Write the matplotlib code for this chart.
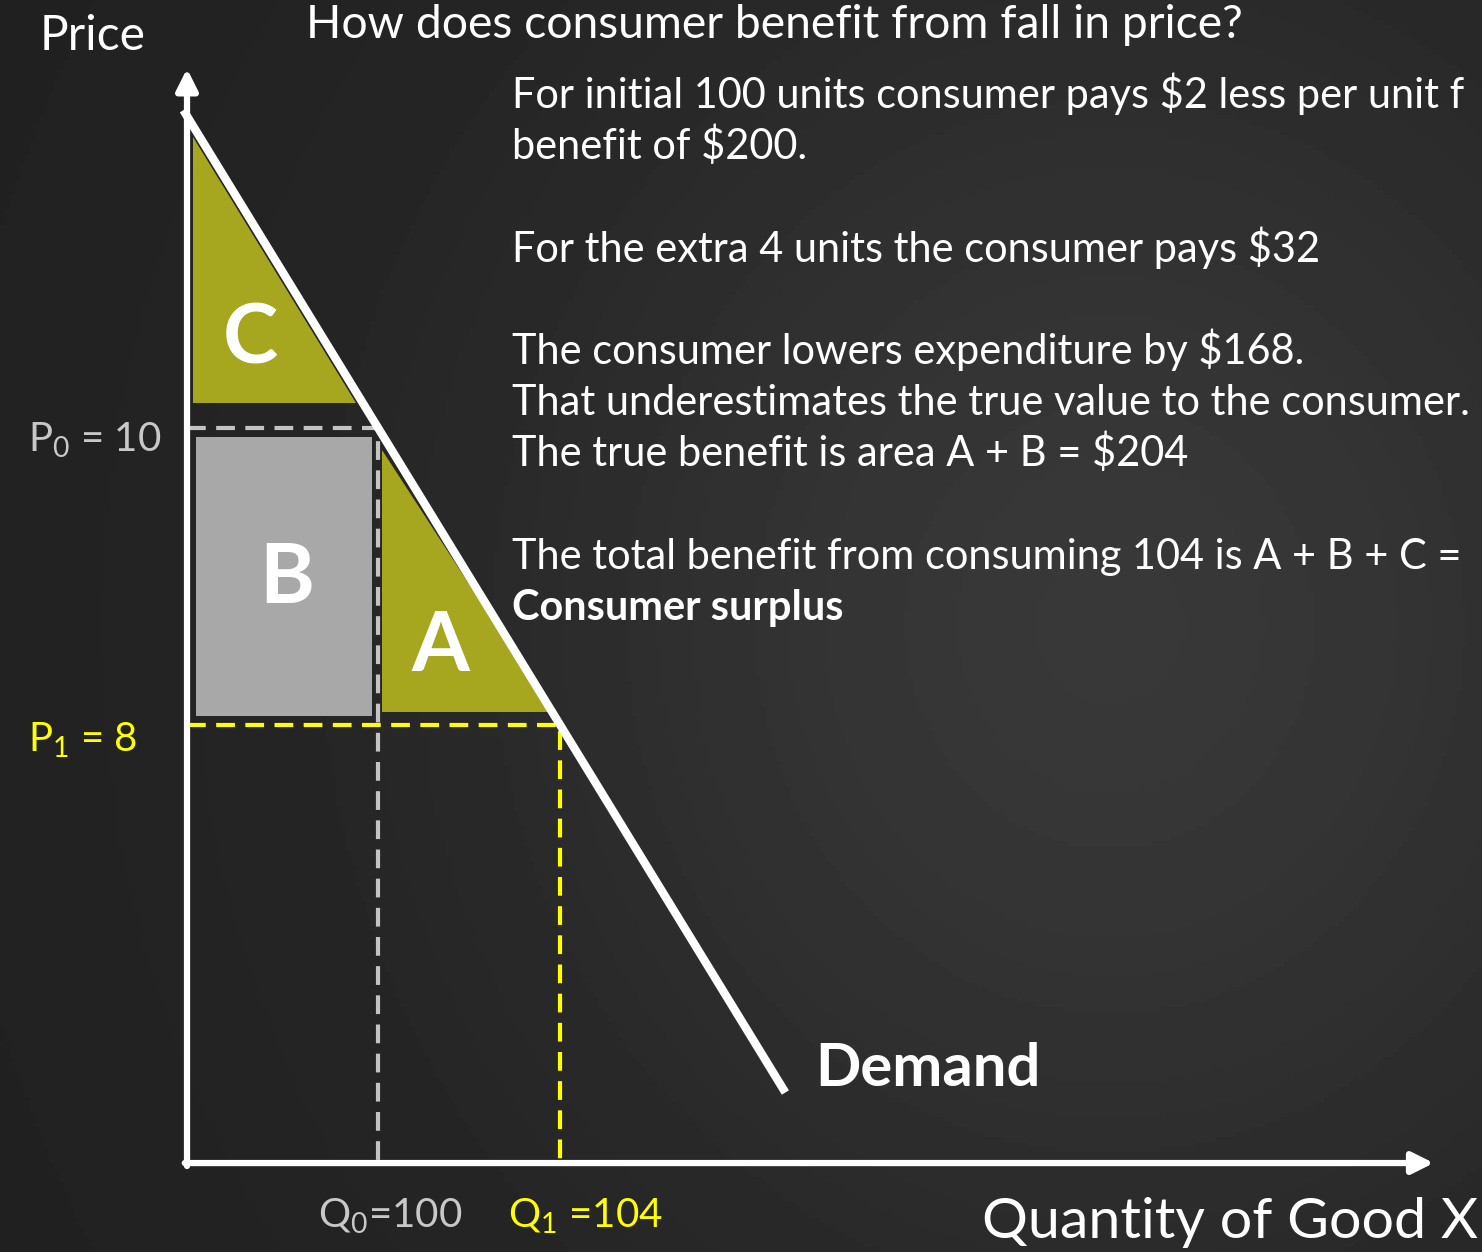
import matplotlib.pyplot as plt
import numpy as np

plt.rcParams['font.family'] = ['Lato', 'DejaVu Sans']
plt.rcParams['mathtext.fontset'] = 'custom'
plt.rcParams['mathtext.rm'] = 'Lato'

# values of the worked example
p0, p1 = 10, 8          # price before / after
q0, q1 = 100, 104       # quantity before / after
# demand through (q0, p0) and (q1, p1) on a truncated schematic
slope = (p1 - p0) / (q1 - q0)
q_axis, p_axis = 95.8, 5.05    # where the drawn axes meet
q_start, q_end = 95.72, 108.95

title = 'How does consumer benefit from fall in price?'
notes = [
    'For initial 100 units consumer pays $2 less per unit f',
    'benefit of $200.',
    '',
    'For the extra 4 units the consumer pays $32',
    '',
    'The consumer lowers expenditure by $168.',
    'That underestimates the true value to the consumer.',
    'The true benefit is area A + B = $204',
    '',
    'The total benefit from consuming 104 is A + B + C =',
    'Consumer surplus',
]

olive = '#a6a61f'
grey_fill = '#a8a8a8'
grey_line = '#c4c4c4'
yellow = '#ffff00'


def demand_p(q):
    return p0 + slope * (q - q0)


def demand_q(p):
    return q0 + (p - p0) / slope


fig = plt.figure(figsize=(14.82, 12.52), dpi=100)
ax = fig.add_axes([0, 0, 1, 1])
ax.set_xlim(91.69, 124.26)
ax.set_ylim(4.451, 12.882)
ax.axis('off')

# chalkboard-ish background: dark at the left, a little lighter to the right
gx = np.linspace(0, 1, 300)
gy = np.linspace(0, 1, 250)
GX, GY = np.meshgrid(gx, gy)
shade = 0.13 + 0.09 * np.exp(-((GX - 0.75) ** 2 / 0.18 + (GY - 0.5) ** 2 / 0.3))
ax.imshow(shade, cmap='gray', vmin=0, vmax=1, extent=(91.69, 124.26, 4.451, 12.882),
          aspect='auto', zorder=0, origin='lower')

# area C (above old price)
c_shift = 0.15
qc_left = q_axis + 0.13
pc_bot = p0 + 0.17
ax.fill([qc_left, qc_left, demand_q(pc_bot) - c_shift],
        [demand_p(qc_left + c_shift), pc_bot, pc_bot], color=olive, zorder=2, lw=0)
# area B (rectangle saved on the first 100 units)
ax.fill([q_axis + 0.19, q0 - 0.13, q0 - 0.13, q_axis + 0.19],
        [p1 + 0.06, p1 + 0.06, p0 - 0.06, p0 - 0.06], color=grey_fill, zorder=2, lw=0)
# area A (triangle for the extra units)
qa = q0 + 0.09
pa = p1 + 0.09
ax.fill([qa, qa, demand_q(pa)], [demand_p(qa) - 0.1, pa, pa], color=olive, zorder=2, lw=0)

# dashed guides
ax.plot([q_axis, q0, q0], [p0, p0, p_axis], color=grey_line, lw=3,
        dashes=(4.5, 2.5), zorder=3)
ax.plot([q_axis, q1, q1], [p1, p1, p_axis], color=yellow, lw=3,
        dashes=(4.5, 2.5), zorder=3)

# demand curve
ax.plot([q_start, q_end], [demand_p(q_start), demand_p(q_end)], color='white',
        lw=6, solid_capstyle='butt', zorder=4)

# axes with arrows
ax.annotate('', xy=(q_axis, 12.42), xytext=(q_axis, p_axis - 0.02),
            arrowprops=dict(arrowstyle='-|>', color='white', lw=4.5, mutation_scale=32,
                            shrinkA=0, shrinkB=0), zorder=5)
ax.annotate('', xy=(123.2, p_axis), xytext=(q_axis - 0.05, p_axis),
            arrowprops=dict(arrowstyle='-|>', color='white', lw=4.5, mutation_scale=32,
                            shrinkA=0, shrinkB=0), zorder=5)

# area letters
ax.text(97.19, 10.59, 'C', color='white', fontsize=60, fontweight='bold',
        ha='center', va='center', zorder=6)
ax.text(98.0, 8.98, 'B', color='white', fontsize=60, fontweight='bold',
        ha='center', va='center', zorder=6)
ax.text(101.37, 8.52, 'A', color='white', fontsize=60, fontweight='bold',
        ha='center', va='center', zorder=6)

# axis value labels
ax.text(92.3, p0 - 0.16, 'P$_{0}$ = %d' % p0, color='#c8c8c8', fontsize=29, va='baseline')
ax.text(92.3, p1 - 0.18, 'P$_{1}$ = %d' % p1, color=yellow, fontsize=29, va='baseline')
ax.text(q0 - 1.32, 4.618, 'Q$_{0}$=%d' % q0, color='#c8c8c8', fontsize=29, va='baseline')
ax.text(q0 + 2.86, 4.618, 'Q$_{1}$ =%d' % q1, color=yellow, fontsize=29, va='baseline')

ax.text(109.6, 5.57, 'Demand', color='white', fontsize=43, fontweight='bold', va='baseline')

# headings and axis names
fig.text(0.027, 1 - 50 / 1252, 'Price', color='white', fontsize=34.5, va='baseline')
fig.text(0.2065, 1 - 38 / 1252, title, color='white', fontsize=33.3, va='baseline')
fig.text(0.6626, 1 - 1238 / 1252, 'Quantity of Good X', color='white', fontsize=41.3,
         va='baseline')

for i, line in enumerate(notes):
    if not line:
        continue
    fig.text(0.3455, 1 - (108 + 51.2 * i) / 1252, line, color='white', fontsize=29.9,
             va='baseline', fontweight='bold' if line == 'Consumer surplus' else 'normal')

fig.savefig('out.png', dpi=100, facecolor='#262626')
